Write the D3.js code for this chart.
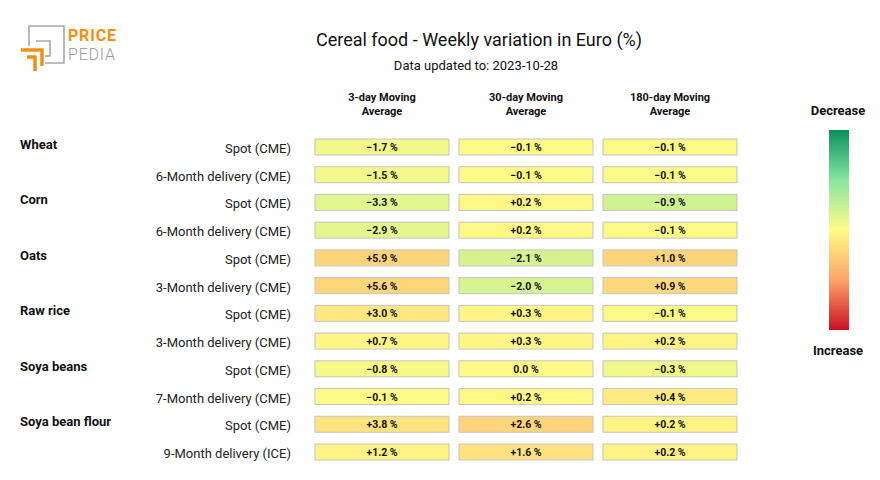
<!DOCTYPE html>
<html>
<head>
<meta charset="utf-8">
<script src="https://cdn.jsdelivr.net/npm/d3@7"></script>
<style>
  body { margin: 0; background: #fff; }
  svg { font-family: Roboto, "Liberation Sans", sans-serif; }
</style>
</head>
<body>
<svg id="chart" width="880" height="480"></svg>
<script>
const groups = ["Wheat", "", "Corn", "", "Oats", "", "Raw rice", "", "Soya beans", "", "Soya bean flour", ""];
const contracts = [
  "Spot (CME)", "6-Month delivery (CME)",
  "Spot (CME)", "6-Month delivery (CME)",
  "Spot (CME)", "3-Month delivery (CME)",
  "Spot (CME)", "3-Month delivery (CME)",
  "Spot (CME)", "7-Month delivery (CME)",
  "Spot (CME)", "9-Month delivery (ICE)"
];
const headers = [["3-day Moving", "Average"], ["30-day Moving", "Average"], ["180-day Moving", "Average"]];
const ma3 = [-1.7, -1.5, -3.3, -2.9, 5.9, 5.6, 3.0, 0.7, -0.8, -0.1, 3.8, 1.2];
const ma30 = [-0.1, -0.1, 0.2, 0.2, -2.1, -2.0, 0.3, 0.3, 0.0, 0.2, 2.6, 1.6];
const ma180 = [-0.1, -0.1, -0.9, -0.1, 1.0, 0.9, -0.1, 0.2, -0.3, 0.4, 0.2, 0.2];
const series = [ma3, ma30, ma180];

const svg = d3.select("#chart");

// gradient stops, decrease (top) -> increase (bottom)
const stops = ["#0a8f5c", "#88e6a0", "#fffb86", "#fca46a", "#cc1028"];
const barColor = d3.scaleLinear().domain([-1, -0.5, 0, 0.5, 1]).range(stops).interpolate(d3.interpolateRgb);

const rows = d3.range(contracts.length);
const y = d3.scalePoint().domain(rows).range([147, 452]);
const x = d3.scalePoint().domain([0, 1, 2]).range([382, 670]);
const cellW = 134, cellH = 16;

// logo
const logo = svg.append("g");
logo.append("path").attr("d", "M29,46 V26 H64 V63 H45")
  .attr("fill", "none").attr("stroke", "#a8a8a8").attr("stroke-width", 1.6);
logo.append("path").attr("d", "M36,41 H50 V56 H45")
  .attr("fill", "none").attr("stroke", "#a8a8a8").attr("stroke-width", 1.6);
logo.append("path").attr("d", "M21,50 H42 V66")
  .attr("fill", "none").attr("stroke", "#f29111").attr("stroke-width", 3.5);
logo.append("path").attr("d", "M27,57 H35 V71")
  .attr("fill", "none").attr("stroke", "#f29111").attr("stroke-width", 3.5);
logo.append("text").attr("x", 68).attr("y", 41).attr("font-size", 16).attr("font-weight", "bold")
  .attr("letter-spacing", 0.8).attr("fill", "#f29111").text("PRICE");
logo.append("text").attr("x", 68).attr("y", 60).attr("font-size", 16).attr("font-weight", 300)
  .attr("letter-spacing", 0.8).attr("fill", "#9a9a9a").text("PEDIA");

// titles
svg.append("text").attr("x", 479).attr("y", 46).attr("text-anchor", "middle")
  .attr("font-size", 18).attr("fill", "#111").text("Cereal food - Weekly variation in Euro (%)");
svg.append("text").attr("x", 476).attr("y", 70).attr("text-anchor", "middle")
  .attr("font-size", 13).attr("fill", "#111").text("Data updated to: 2023-10-28");

// column headers
headers.forEach((h, i) => {
  h.forEach((line, j) => {
    svg.append("text").attr("x", x(i)).attr("y", 101 + j * 14).attr("text-anchor", "middle")
      .attr("font-size", 11).attr("font-weight", "bold").attr("fill", "#111").text(line);
  });
});

// row labels
svg.append("g").selectAll("text").data(rows.filter(i => groups[i])).join("text")
  .attr("x", 20).attr("y", i => y(i) + 2)
  .attr("font-size", 13).attr("font-weight", "bold").attr("fill", "#111").text(i => groups[i]);
svg.append("g").selectAll("text").data(rows).join("text")
  .attr("x", 291).attr("y", i => y(i) + 6).attr("text-anchor", "end")
  .attr("font-size", 13).attr("fill", "#222").text(i => contracts[i]);

// cells: colour normalised per column
const fmt = v => (v === 0 ? "0.0" : d3.format("+.1f")(v)) + " %";
series.forEach((vals, c) => {
  const m = d3.max(vals, v => Math.abs(v)) * 4.5;
  const g = svg.append("g");
  const cell = g.selectAll("g").data(vals).join("g")
    .attr("transform", (v, i) => `translate(${x(c)},${y(i)})`);
  cell.append("rect")
    .attr("x", -cellW / 2).attr("y", -cellH / 2).attr("width", cellW).attr("height", cellH)
    .attr("fill", v => barColor(v / m)).attr("stroke", "#c4c4c4").attr("stroke-width", 1);
  cell.append("text").attr("y", 4).attr("text-anchor", "middle")
    .attr("font-size", 10.5).attr("font-weight", "bold").attr("fill", "#111").text(fmt);
});

// colour bar legend
const defs = svg.append("defs");
const grad = defs.append("linearGradient").attr("id", "cb").attr("x1", 0).attr("x2", 0).attr("y1", 0).attr("y2", 1);
grad.selectAll("stop").data(stops).join("stop")
  .attr("offset", (d, i) => i / (stops.length - 1)).attr("stop-color", d => d);
svg.append("rect").attr("x", 829).attr("y", 130).attr("width", 20).attr("height", 200).attr("fill", "url(#cb)");
svg.append("text").attr("x", 838).attr("y", 115).attr("text-anchor", "middle")
  .attr("font-size", 13).attr("font-weight", "bold").attr("fill", "#111").text("Decrease");
svg.append("text").attr("x", 838).attr("y", 355).attr("text-anchor", "middle")
  .attr("font-size", 13).attr("font-weight", "bold").attr("fill", "#111").text("Increase");
</script>
</body>
</html>
